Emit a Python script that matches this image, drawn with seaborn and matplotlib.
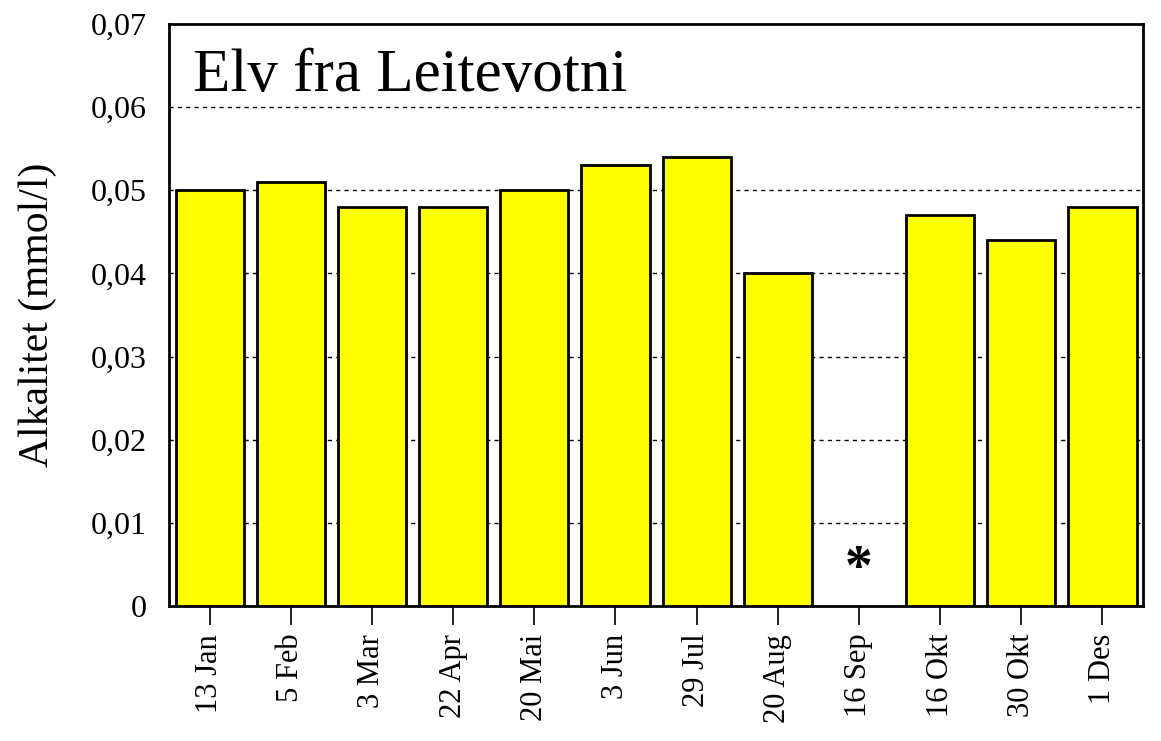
import numpy as np
import pandas as pd
import seaborn as sns
import matplotlib
matplotlib.use("Agg")
import matplotlib.pyplot as plt
from matplotlib.ticker import FuncFormatter

dates = ["13 Jan", "5 Feb", "3 Mar", "22 Apr", "20 Mai", "3 Jun", "29 Jul",
         "20 Aug", "16 Sep", "16 Okt", "30 Okt", "1 Des"]
alkalitet = [0.050, 0.051, 0.048, 0.048, 0.050, 0.053, 0.054,
             0.040, np.nan, 0.047, 0.044, 0.048]
missing_label = "16 Sep"
title = "Elv fra Leitevotni"
ylabel = "Alkalitet (mmol/l)"

df = pd.DataFrame({"dato": dates, "alk": alkalitet})

sns.set_style("white")
plt.rcParams["font.family"] = ["Liberation Serif", "DejaVu Serif"]
plt.rcParams["text.color"] = "black"
plt.rcParams["axes.labelcolor"] = "black"

fig = plt.figure(figsize=(11.61, 7.41), dpi=100)
ax = fig.add_axes([0.1456, 0.1822, 0.8389, 0.7854])

sns.barplot(data=df, x="dato", y="alk", color="#FFFF00", edgecolor="black",
            linewidth=2, width=0.84, saturation=1, ax=ax, zorder=3)

ax.set_ylim(0, 0.07)
ax.set_xlim(-0.5, len(dates) - 0.5)
ax.set_yticks(np.arange(0, 0.0701, 0.01))
ax.yaxis.set_major_formatter(FuncFormatter(
    lambda v, p: "0" if abs(v) < 1e-9 else f"{v:.2f}".replace(".", ",")))
for yv in np.arange(0.01, 0.0601, 0.01):
    ax.axhline(yv, color="black", linestyle=(0, (3, 3)), linewidth=1, zorder=1)

ax.tick_params(axis="x", direction="out", length=14, width=1.2, colors="black",
               labelsize=22, rotation=90, pad=6, bottom=True)
ax.tick_params(axis="y", length=0, labelsize=23, pad=16, colors="black")
ax.set_xlabel("")
ax.set_ylabel(ylabel, fontsize=30, labelpad=24, color="black")
for s in ax.spines.values():
    s.set_color("black")
    s.set_linewidth(2)

ax.text(0.025, 0.91, title, transform=ax.transAxes, fontsize=44,
        va="center", ha="left", color="black")
idx = dates.index(missing_label)
ax.text(idx, 0.0043, "*", fontsize=40, ha="center", va="center",
        fontweight="bold", color="black")

fig.savefig("out.png", dpi=100)
